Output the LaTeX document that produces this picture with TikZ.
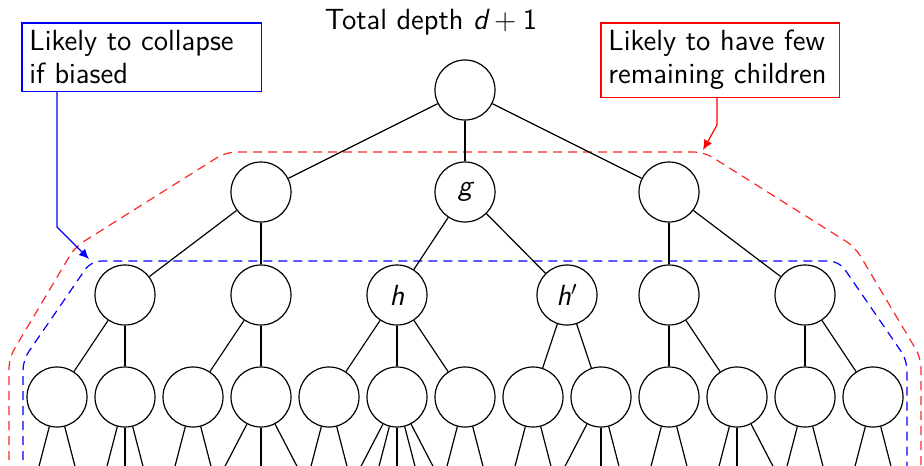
\documentclass[tikz,border=0pt]{standalone}
\usetikzlibrary{arrows.meta}
\begin{document}
\begin{tikzpicture}[x=0.5pt,y=-0.5pt,
  every node/.style={font=\sffamily\fontsize{14.6}{16.5}\selectfont},
  tn/.style={draw, circle, line width=0.6pt, minimum size=30pt, inner sep=0pt},
  edge/.style={line width=0.6pt},
  reddash/.style={red!85, line width=0.6pt, dash pattern=on 4.5pt off 3pt, rounded corners=5pt},
  bluedash/.style={blue, line width=0.6pt, dash pattern=on 4.5pt off 3pt, rounded corners=5pt},
  note/.style={anchor=north west, align=left, inner xsep=3.5pt, inner ysep=3.5pt, text=black},
  frame/.style={line width=0.65pt, line join=miter},
  callout/.style={line width=0.6pt, -{Latex[length=5pt,width=4.5pt]}}
]
\useasboundingbox (0,0) rectangle (924,465);

\begin{scope}
\clip (0,0) rectangle (924,465);
% dashed regions
\draw[reddash] (9,475) -- (9,358) -- (75,247) -- (226,152) -- (704,152) -- (855,247) -- (921,358) -- (921,475);
\draw[bluedash] (23,475) -- (23,360) -- (91,261) -- (839,261) -- (907,360) -- (907,475);
\end{scope}

% title
\node[anchor=base] (title) at (431,30) {Total depth {\itshape d}\hspace{0.22em}+\hspace{0.22em}1};

% tree nodes
\node[tn] (r) at (465,90) {};
\node[tn] (a) at (261,192) {};
\node[tn] (g) at (465,192) {\itshape g};
\node[tn] (b) at (669,192) {};

\node[tn] (c1) at (125,295) {};
\node[tn] (c2) at (261,295) {};
\node[tn] (h)  at (397,295) {\itshape h};
\node[tn] (hp) at (567,295) {{\itshape h}$'$};
\node[tn] (c5) at (669,295) {};
\node[tn] (c6) at (805,295) {};

\foreach \i in {1,...,13} {
  \node[tn] (d\i) at ({57+68*(\i-1)},397) {};
}

% edges
\draw[edge] (r) -- (a);
\draw[edge] (r) -- (g);
\draw[edge] (r) -- (b);
\draw[edge] (a) -- (c1);
\draw[edge] (a) -- (c2);
\draw[edge] (g) -- (h);
\draw[edge] (g) -- (hp);
\draw[edge] (b) -- (c5);
\draw[edge] (b) -- (c6);
\draw[edge] (c1) -- (d1);
\draw[edge] (c1) -- (d2);
\draw[edge] (c2) -- (d3);
\draw[edge] (c2) -- (d4);
\draw[edge] (h) -- (d5);
\draw[edge] (h) -- (d6);
\draw[edge] (h) -- (d7);
\draw[edge] (hp) -- (d8);
\draw[edge] (hp) -- (d9);
\draw[edge] (c5) -- (d10);
\draw[edge] (c5) -- (d11);
\draw[edge] (c6) -- (d12);
\draw[edge] (c6) -- (d13);

% leaf stubs
\begin{scope}
\clip (0,0) rectangle (924,465);
\foreach \i/\ks in {1/{-1,1}, 2/{-1,0,1}, 3/{-1,1}, 4/{-2,0,2}, 5/{-1,1},
                    6/{-2,-1,0,1,2}, 7/{-1,1}, 8/{-1,1}, 9/{-2,0,1}, 10/{-1,1},
                    11/{-1,0,2}, 12/{-1,1}, 13/{-1,1}} {
  \foreach \k in \ks {
    \path (d\i.center) ++({\k*26.5},102) coordinate (lf\i x\k);
    \draw[edge] (d\i) -- (lf\i x\k);
  }
}
\end{scope}

% callout boxes
\node[note, text width=112.5pt] (bbox) at (22,23) {\mbox{Likely to collapse}\\if biased};
\draw[frame, draw=blue] (bbox.north west) -- (bbox.north east) -- (bbox.south east) -- (bbox.south west) -- cycle;
\node[note, text width=112pt] (rbox) at (601,23) {\mbox{Likely to have few}\\\mbox{remaining children}};
\draw[frame, draw=red] (rbox.north west) -- (rbox.north east) -- (rbox.south east) -- (rbox.south west) -- cycle;

\coordinate (bbend) at (57,227);
\coordinate (btip) at (89,259);
\draw[callout, blue] (bbox.south -| bbend) -- (bbend) -- (btip);

\coordinate (rbend) at (717,125);
\coordinate (rtip) at (703,150);
\draw[callout, red] (rbox.south -| rbend) -- (rbend) -- (rtip);
\end{tikzpicture}
\end{document}
